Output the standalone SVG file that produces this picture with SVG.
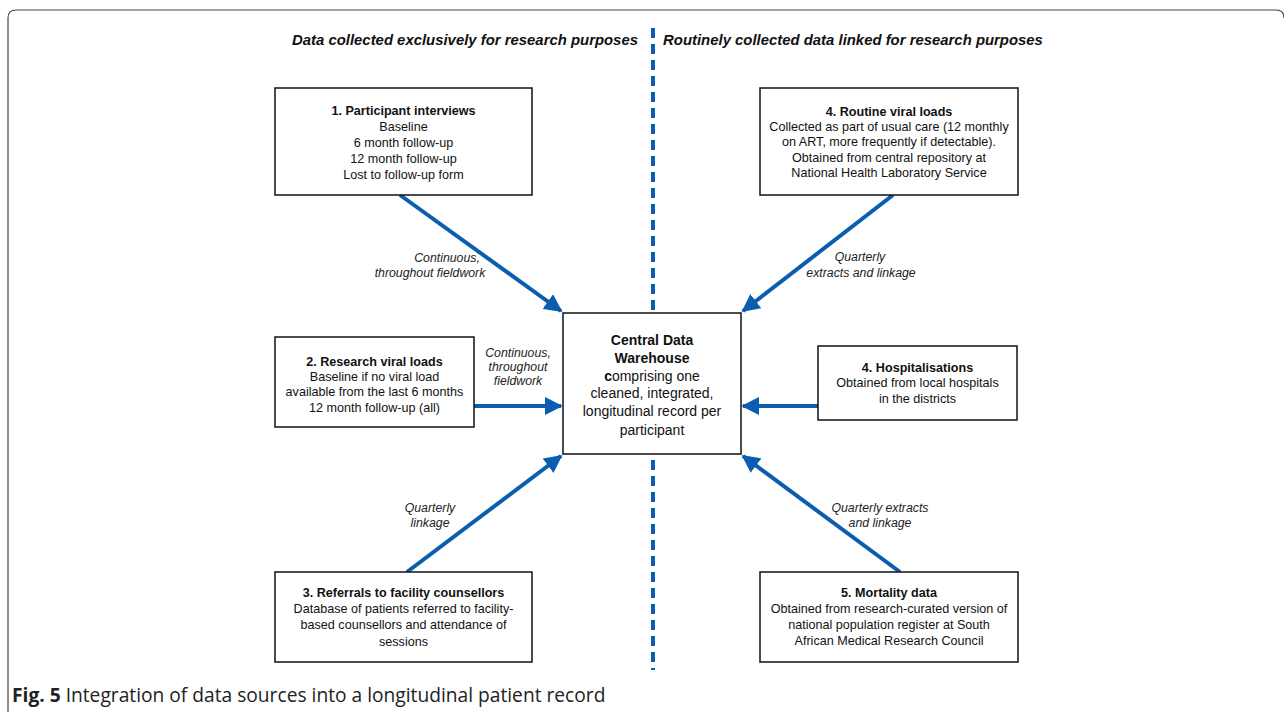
<svg xmlns="http://www.w3.org/2000/svg" width="1284" height="712" viewBox="0 0 1284 712">
<style>
.frame{fill:none;stroke:#444;stroke-width:1.2}
.box{fill:#fff;stroke:#111;stroke-width:1.5}
.t{font-family:"Liberation Sans",Arial,sans-serif;font-size:12.6px;fill:#111;text-anchor:middle}
.b{font-weight:bold}
.c{font-family:"Liberation Sans",Arial,sans-serif;font-size:14px;fill:#111;text-anchor:middle}
.lab{font-family:"Liberation Sans",Arial,sans-serif;font-size:12.3px;font-style:italic;fill:#222;text-anchor:middle}
.hdr{font-family:"Liberation Sans",Arial,sans-serif;font-size:14.9px;font-style:italic;font-weight:bold;fill:#111;text-anchor:middle}
.arr{stroke:#0B5DAF;stroke-width:4;fill:none;marker-end:url(#ah)}
.cap{font-family:"Open Sans","Noto Sans",sans-serif;font-size:19.2px;fill:#222}
</style>
<defs>
<marker id="ah" viewBox="0 0 10 10" refX="9" refY="5" markerWidth="4.5" markerHeight="4.5" orient="auto" markerUnits="strokeWidth">
<path d="M0,0 L10,5 L0,10 z" fill="#0B5DAF"/>
</marker>
</defs>
<rect width="1284" height="712" fill="#fff"/>
<path class="frame" d="M8,712 V18 Q8,10 16,10 H1276 Q1284,10 1284,18"/>
<g id="divider"><line x1="653" y1="28" x2="653" y2="670" stroke="#0B5DAF" stroke-width="4" stroke-dasharray="10,6"/></g>
<g id="headers">
<text class="hdr" x="465" y="45">Data collected exclusively for research purposes</text>
<text class="hdr" x="853" y="45">Routinely collected data linked for research purposes</text>
</g>
<g id="connectors">
<line class="arr" x1="400" y1="195" x2="561" y2="311"/>
<line class="arr" x1="893" y1="195" x2="743" y2="311"/>
<line class="arr" x1="474" y1="406" x2="561" y2="406"/>
<line class="arr" x1="818" y1="406" x2="743" y2="406"/>
<line class="arr" x1="407" y1="572" x2="561" y2="456"/>
<line class="arr" x1="900" y1="572" x2="743" y2="456"/>
<text class="lab" x="447" y="262">Continuous,</text>
<text class="lab" x="430" y="277">throughout fieldwork</text>
<text class="lab" x="518" y="357">Continuous,</text>
<text class="lab" x="518" y="371">throughout</text>
<text class="lab" x="518" y="385">fieldwork</text>
<text class="lab" x="860" y="261">Quarterly</text>
<text class="lab" x="861" y="277">extracts and linkage</text>
<text class="lab" x="430" y="512">Quarterly</text>
<text class="lab" x="430" y="527">linkage</text>
<text class="lab" x="880" y="512">Quarterly extracts</text>
<text class="lab" x="880" y="527">and linkage</text>
</g>
<g id="n1">
<rect class="box" x="275" y="88" width="257" height="107"/>
<text class="t b" x="403.5" y="115">1. Participant interviews</text>
<text class="t" x="403.5" y="131">Baseline</text>
<text class="t" x="403.5" y="147">6 month follow-up</text>
<text class="t" x="403.5" y="163">12 month follow-up</text>
<text class="t" x="403.5" y="179">Lost to follow-up form</text>
</g>
<g id="n4a">
<rect class="box" x="760" y="88" width="258" height="107"/>
<text class="t b" x="889" y="116">4. Routine viral loads</text>
<text class="t" x="889" y="131">Collected as part of usual care (12 monthly</text>
<text class="t" x="889" y="146">on ART, more frequently if detectable).</text>
<text class="t" x="889" y="162">Obtained from central repository at</text>
<text class="t" x="889" y="177">National Health Laboratory Service</text>
</g>
<g id="n2">
<rect class="box" x="275" y="337" width="199" height="90"/>
<text class="t b" x="374.5" y="366">2. Research viral loads</text>
<text class="t" x="374.5" y="381">Baseline if no viral load</text>
<text class="t" x="374.5" y="396">available from the last 6 months</text>
<text class="t" x="374.5" y="412">12 month follow-up (all)</text>
</g>
<g id="center">
<rect class="box" x="563" y="313" width="178" height="141"/>
<text class="c b" x="652" y="345">Central Data</text>
<text class="c b" x="652" y="363">Warehouse</text>
<text class="c" x="652" y="381"><tspan font-weight="bold">c</tspan>omprising one</text>
<text class="c" x="652" y="398">cleaned, integrated,</text>
<text class="c" x="652" y="416">longitudinal record per</text>
<text class="c" x="652" y="435">participant</text>
</g>
<g id="n4b">
<rect class="box" x="818" y="346" width="199" height="74"/>
<text class="t b" x="917.5" y="372">4. Hospitalisations</text>
<text class="t" x="917.5" y="387">Obtained from local hospitals</text>
<text class="t" x="917.5" y="403">in the districts</text>
</g>
<g id="n3">
<rect class="box" x="275" y="572" width="257" height="90"/>
<text class="t b" x="403.5" y="597">3. Referrals to facility counsellors</text>
<text class="t" x="403.5" y="613">Database of patients referred to facility-</text>
<text class="t" x="403.5" y="629">based counsellors and attendance of</text>
<text class="t" x="403.5" y="646">sessions</text>
</g>
<g id="n5">
<rect class="box" x="760" y="572" width="258" height="90"/>
<text class="t b" x="889" y="597">5. Mortality data</text>
<text class="t" x="889" y="613">Obtained from research-curated version of</text>
<text class="t" x="889" y="629">national population register at South</text>
<text class="t" x="889" y="645">African Medical Research Council</text>
</g>
<g id="caption">
<text class="cap" x="12" y="702"><tspan font-weight="bold">Fig. 5</tspan> Integration of data sources into a longitudinal patient record</text>
</g>
</svg>
